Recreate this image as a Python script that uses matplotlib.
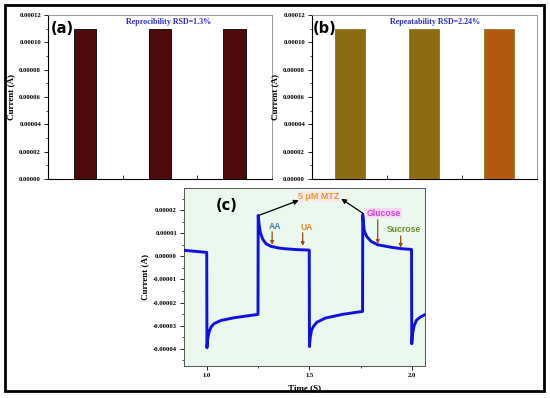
import matplotlib
matplotlib.use("Agg")
import matplotlib.pyplot as plt
from matplotlib.patches import Rectangle
from matplotlib.ticker import MultipleLocator, FormatStrFormatter

# panel (a) / (b) bar data
bar_pos = [1, 2, 3]
repro_vals = [0.00011, 0.00011, 0.00011]
repeat_vals = [0.00011, 0.00011, 0.00011]
repeat_colors = ['#8d6b12', '#8d6b12', '#b3580f']

# panel (c) chronoamperometry trace (time in s, current in 1e-5 A)
t_vals = [0.888, 0.95, 0.999, 1.0, 1.004, 1.011, 1.02, 1.036, 1.069, 1.135, 1.2, 1.249,
          1.25, 1.255, 1.26, 1.272, 1.289, 1.313, 1.35, 1.379, 1.44, 1.499,
          1.5, 1.504, 1.51, 1.52, 1.536, 1.577, 1.66, 1.759,
          1.76, 1.764, 1.767, 1.78, 1.8, 1.833, 1.9, 1.95, 1.998,
          1.999, 2.003, 2.01, 2.022, 2.04, 2.063]
i_vals = [0.26, 0.21, 0.17, -3.95, -3.55, -3.25, -3.05, -2.9, -2.77, -2.65, -2.57, -2.51,
          1.77, 1.35, 1.05, 0.74, 0.54, 0.43, 0.36, 0.33, 0.29, 0.27,
          -3.9, -3.5, -3.2, -3.02, -2.85, -2.67, -2.51, -2.38,
          1.8, 1.4, 1.1, 0.85, 0.65, 0.5, 0.39, 0.33, 0.3,
          -3.78, -3.35, -3.02, -2.76, -2.63, -2.52]

# analyte labels: (text, colour, text x, text y, arrow x, arrow top, arrow bottom) in 1e-5 A
analytes = [
    ('AA', '#3d7ea6', 1.333, 1.29, 1.318, 1.06, 0.50),
    ('UA', '#e08a1e', 1.487, 1.25, 1.467, 1.02, 0.45),
    ('Glucose', '#c447e0', 1.862, 1.87, 1.833, 1.58, 0.55),
    ('Sucrose', '#6b8c22', 1.962, 1.14, 1.945, 0.88, 0.38),
]

TICK_FONT = dict(family='Liberation Serif', weight='bold', size=4.8)
LABEL_FONT = dict(family='Liberation Serif', weight='bold', size=6.5)

fig = plt.figure(figsize=(5.5, 3.98), dpi=100)
fig.patch.set_facecolor('white')


def style_bar_axes(ax, ylab):
    ax.set_xlim(0.5, 3.5)
    ax.set_ylim(0, 0.00012)
    ax.yaxis.set_major_locator(MultipleLocator(0.00002))
    ax.yaxis.set_minor_locator(MultipleLocator(0.00001))
    ax.yaxis.set_major_formatter(FormatStrFormatter('%.5f'))
    ax.xaxis.set_major_locator(MultipleLocator(1))
    ax.xaxis.set_minor_locator(MultipleLocator(0.5))
    ax.set_xticklabels([])
    ax.tick_params(axis='x', which='both', direction='in', length=3, width=0.5, labelbottom=False)
    ax.tick_params(axis='y', which='major', direction='out', length=3, width=0.6, pad=2)
    ax.tick_params(axis='y', which='minor', direction='out', length=1.5, width=0.5)
    for lab in ax.get_yticklabels():
        lab.set(**TICK_FONT)
    ax.set_ylabel(ylab, **LABEL_FONT)
    ax.yaxis.set_label_coords(-0.148, 0.5)
    for s in ['top', 'right']:
        ax.spines[s].set_color('#888888')
        ax.spines[s].set_linewidth(0.6)
    for s in ['left', 'bottom']:
        ax.spines[s].set_color('black')
        ax.spines[s].set_linewidth(0.8)


# (a)
ax_a = fig.add_axes([0.0873, 0.5503, 0.4067, 0.412])
ax_a.bar(bar_pos, repro_vals, width=0.3, color='#4d0a0a', edgecolor='black', linewidth=0.6, zorder=3)
style_bar_axes(ax_a, 'Current (A)')
ax_a.text(0.541, 0.957, 'Reprocibility RSD=1.3%', transform=ax_a.transAxes, ha='center', va='center',
          color='#2a2ad0', family='Liberation Serif', weight='bold', size=5.8)
ax_a.text(0.01, 0.915, '(a)', transform=ax_a.transAxes, ha='left', va='center',
          family='DejaVu Sans', weight='bold', size=10.5)

# (b)
ax_b = fig.add_axes([0.5673, 0.5503, 0.409, 0.412])
ax_b.bar(bar_pos, repeat_vals, width=0.4, color=repeat_colors, edgecolor='#7a6a10', linewidth=0.5, zorder=3)
style_bar_axes(ax_b, 'Current (A)')
ax_b.text(0.547, 0.957, 'Repeatability RSD=2.24%', transform=ax_b.transAxes, ha='center', va='center',
          color='#2a2ad0', family='Liberation Serif', weight='bold', size=5.8)
ax_b.text(0.005, 0.915, '(b)', transform=ax_b.transAxes, ha='left', va='center',
          family='DejaVu Sans', weight='bold', size=10.5)

# (c)
ax_c = fig.add_axes([0.3345, 0.0804, 0.438, 0.447])
ax_c.set_facecolor('#ebf8ee')
scale = 1e-5
ax_c.plot(t_vals, [v * scale for v in i_vals], color='#1010e0', lw=2.1, solid_joinstyle='round', zorder=3)
ax_c.set_xlim(0.888, 2.063)
ax_c.set_ylim(-4.74e-5, 2.95e-5)
ax_c.xaxis.set_major_locator(MultipleLocator(0.5))
ax_c.xaxis.set_minor_locator(MultipleLocator(0.25))
ax_c.xaxis.set_major_formatter(FormatStrFormatter('%.1f'))
ax_c.yaxis.set_major_locator(MultipleLocator(1e-5))
ax_c.yaxis.set_minor_locator(MultipleLocator(0.5e-5))
ax_c.yaxis.set_major_formatter(FormatStrFormatter('%.5f'))
ax_c.tick_params(which='major', direction='out', length=3, width=0.6, pad=2)
ax_c.tick_params(which='minor', direction='out', length=1.5, width=0.5)
for lab in ax_c.get_yticklabels() + ax_c.get_xticklabels():
    lab.set(**TICK_FONT)
ax_c.set_ylabel('Current (A)', **LABEL_FONT)
ax_c.yaxis.set_label_coords(-0.145, 0.5)
ax_c.set_xlabel('Time (S)', **LABEL_FONT)
ax_c.xaxis.set_label_coords(0.5, -0.1)
for s in ax_c.spines.values():
    s.set_color('#555555')
    s.set_linewidth(0.7)

ax_c.text(0.178, 0.904, '(c)', transform=ax_c.transAxes, ha='center', va='center',
          family='DejaVu Sans', weight='bold', size=10.5)

ax_c.text(1.545, 2.59e-5, '5 \u03bcM MTZ', ha='center', va='center', color='#e0a020',
          family='Liberation Sans', weight='bold', size=6.5,
          bbox=dict(boxstyle='square,pad=0.1', fc='#fde6ee', ec='none'))
arrow_k = dict(arrowstyle='-|>', color='black', lw=0.9, mutation_scale=7, shrinkA=0, shrinkB=0)
ax_c.annotate('', xy=(1.448, 2.42e-5), xytext=(1.256, 1.78e-5), arrowprops=arrow_k)
ax_c.annotate('', xy=(1.655, 2.49e-5), xytext=(1.764, 1.84e-5), arrowprops=arrow_k)

for name, col, tx, ty, ax_x, a_top, a_bot in analytes:
    box = None
    if name == 'Glucose':
        box = dict(boxstyle='square,pad=0.1', fc='#fbd6ee', ec='none')
    ax_c.text(tx, ty * scale, name, ha='center', va='center', color=col,
              family='Liberation Sans', weight='bold', size=6.2, bbox=box)
    ax_c.annotate('', xy=(ax_x, a_bot * scale), xytext=(ax_x, a_top * scale),
                  arrowprops=dict(arrowstyle='-|>', color='#9a4a12', lw=0.9, mutation_scale=5,
                                  shrinkA=0, shrinkB=0))

# outer frame
fig.add_artist(Rectangle((0.009, 0.0176), 0.98, 0.9694, transform=fig.transFigure,
                         fill=False, ec='black', lw=2))

fig.savefig('out.png', dpi=100)
